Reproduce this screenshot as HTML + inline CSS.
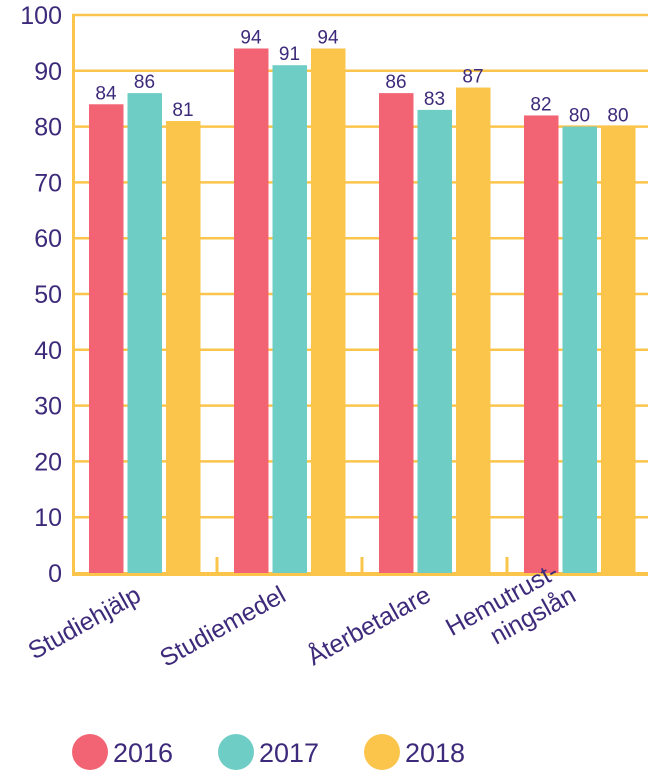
<!DOCTYPE html>
<html><head><meta charset="utf-8"><style>
body{margin:0;background:#fff}
svg text{font-family:"Liberation Sans",sans-serif;fill:#3d2a7a}
</style></head><body>
<svg width="648" height="773">
<g id="grid"></g><g id="bars"></g><g id="labels"></g><g id="legend"></g>
</svg>
<script>
const categories=["Studiehjälp","Studiemedel","Återbetalare","Hemutrust-|ningslån"];
const years=["2016","2017","2018"];
const s2016=[84,94,86,82];
const s2017=[86,91,83,80];
const s2018=[81,94,87,80];
const yTicks=[0,10,20,30,40,50,60,70,80,90,100];
const colors=["#f26474","#6ecdc4","#fbc44b"];
const series=[s2016,s2017,s2018];
const NS="http://www.w3.org/2000/svg";
const y0=573,yTop=15,x0=72,band=145;
const y=v=>y0-(v/100)*(y0-yTop);
function mk(t,a,p){const e=document.createElementNS(NS,t);for(const k in a)e.setAttribute(k,a[k]);p.appendChild(e);return e;}
const grid=document.getElementById('grid'),bars=document.getElementById('bars'),lab=document.getElementById('labels'),leg=document.getElementById('legend');
yTicks.forEach(t=>{
 if(t>0){const l=mk('line',{x1:x0,x2:648,y1:y(t),y2:y(t),stroke:'#fbc44b','stroke-width':2.5},grid);
 
 }
 const tx=mk('text',{x:62,y:y(t)+9,'text-anchor':'end','font-size':25},grid);tx.textContent=t;
 
 
});
const ax=mk('line',{x1:x0+1.5,x2:x0+1.5,y1:yTop-1,y2:y0+3,stroke:'#fbc44b','stroke-width':3},grid);


const bx=mk('line',{x1:x0,x2:648,y1:y0+1,y2:y0+1,stroke:'#fbc44b','stroke-width':4},grid);


for(let i=1;i<categories.length;i++){const tk=mk('line',{x1:x0+band*i,x2:x0+band*i,y1:557,y2:573,stroke:'#fbc44b','stroke-width':3},grid);
 
 }
categories.forEach((c,i)=>{
 const cx=x0+band*i+band/2;
 series.forEach((s,j)=>{
  const bxp=cx-55.5+j*38.5;
  const r=mk('rect',{x:bxp,y:y(s[i]),width:34.5,height:y0-y(s[i]),fill:colors[j]},bars);
  
  
  const t=mk('text',{x:bxp+17,y:y(s[i])-5,'text-anchor':'middle','font-size':19},bars);t.textContent=s[i];
  
  
 });
 const parts=c.split('|');
 const g=mk('g',{transform:`translate(${cx-2},${600}) rotate(-29)`},lab);
 
 
 parts.forEach((p,k)=>{const t=mk('text',{x:k===0&&parts.length>1?-4:0,y:k*29-(parts.length-1)*29+(parts.length>1?29:0)-(parts.length>1?29:0),'text-anchor':'end','font-size':25},g);t.textContent=p;});
});
years.forEach((yr,j)=>{
 const cx=90+j*146;
 const c=mk('circle',{cx:cx,cy:752,r:18,fill:colors[j]},leg);
 
 
 const t=mk('text',{x:cx+23,y:762,'font-size':27},leg);t.textContent=yr;
 
 
});
</script>
</body></html>
